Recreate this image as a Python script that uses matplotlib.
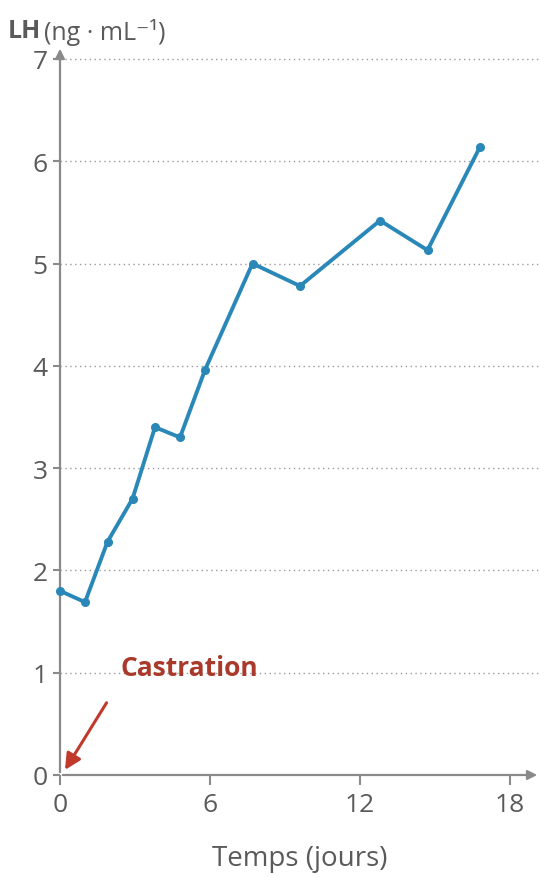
import matplotlib.pyplot as plt

# LH apres castration
jours = [0, 1.0, 1.9, 2.9, 3.8, 4.8, 5.8, 7.7, 9.6, 12.8, 14.7, 16.8]
lh = [1.80, 1.69, 2.28, 2.70, 3.40, 3.30, 3.96, 5.00, 4.78, 5.42, 5.13, 6.14]
xticks = [0, 6, 12, 18]
yticks = [0, 1, 2, 3, 4, 5, 6, 7]

plt.rcParams['font.family'] = ['Open Sans', 'DejaVu Sans']
grey = '#8a8a8a'
txt = '#5a5a5a'

fig = plt.figure(figsize=(5.4, 8.78), dpi=100)
ax = fig.add_axes([60 / 540, (878 - 776) / 878, 480 / 540, (776 - 47) / 878])
ax.set_xlim(0, 480 / 25)
ax.set_ylim(0, (776 - 47) / 102.3)

for s in ax.spines.values():
    s.set_visible(False)

# grille pointillee
for v in yticks[1:]:
    ax.axhline(v, color='#9a9a9a', lw=1.0, ls=(0, (1, 2.5)), zorder=1)

# axes avec fleches
ax.annotate('', xy=(1, 0), xytext=(0, 0), xycoords='axes fraction',
            arrowprops=dict(arrowstyle='-|>', color=grey, lw=1.6, mutation_scale=14))
ax.annotate('', xy=(0, 1), xytext=(0, 0), xycoords='axes fraction',
            arrowprops=dict(arrowstyle='-|>', color=grey, lw=1.6, mutation_scale=14))

ax.set_xticks(xticks)
ax.set_yticks(yticks)
ax.tick_params(axis='x', direction='out', length=7, width=1.5, color=grey,
               labelsize=19, labelcolor=txt, pad=5)
ax.tick_params(axis='y', direction='out', length=5, width=1.5, color=grey,
               labelsize=19, labelcolor=txt, pad=4)

ax.plot(jours, lh, color='#2a88b8', lw=2.8, marker='o', ms=5.5, zorder=3,
        clip_on=False)

ax.set_xlabel('Temps (jours)', fontsize=20, color=txt, labelpad=20)

fig.text(8 / 540, 1 - 32 / 878, 'LH', fontsize=18, color=txt, weight='bold',
         va='center', ha='left')
fig.text(44 / 540, 1 - 32 / 878, '(ng · mL⁻¹)', fontsize=18, color=txt,
         va='center', ha='left')

# castration
ax.annotate('Castration', xy=(0.2, 0.05), xytext=(2.4, 1.05),
            fontsize=19, weight='bold', color='#a8392b', ha='left', va='center',
            arrowprops=dict(arrowstyle='-|>', color='#c0392b', lw=2.2,
                            mutation_scale=24, shrinkA=16, shrinkB=0,
                            relpos=(0, 0)))

fig.savefig('out.png', dpi=100)
